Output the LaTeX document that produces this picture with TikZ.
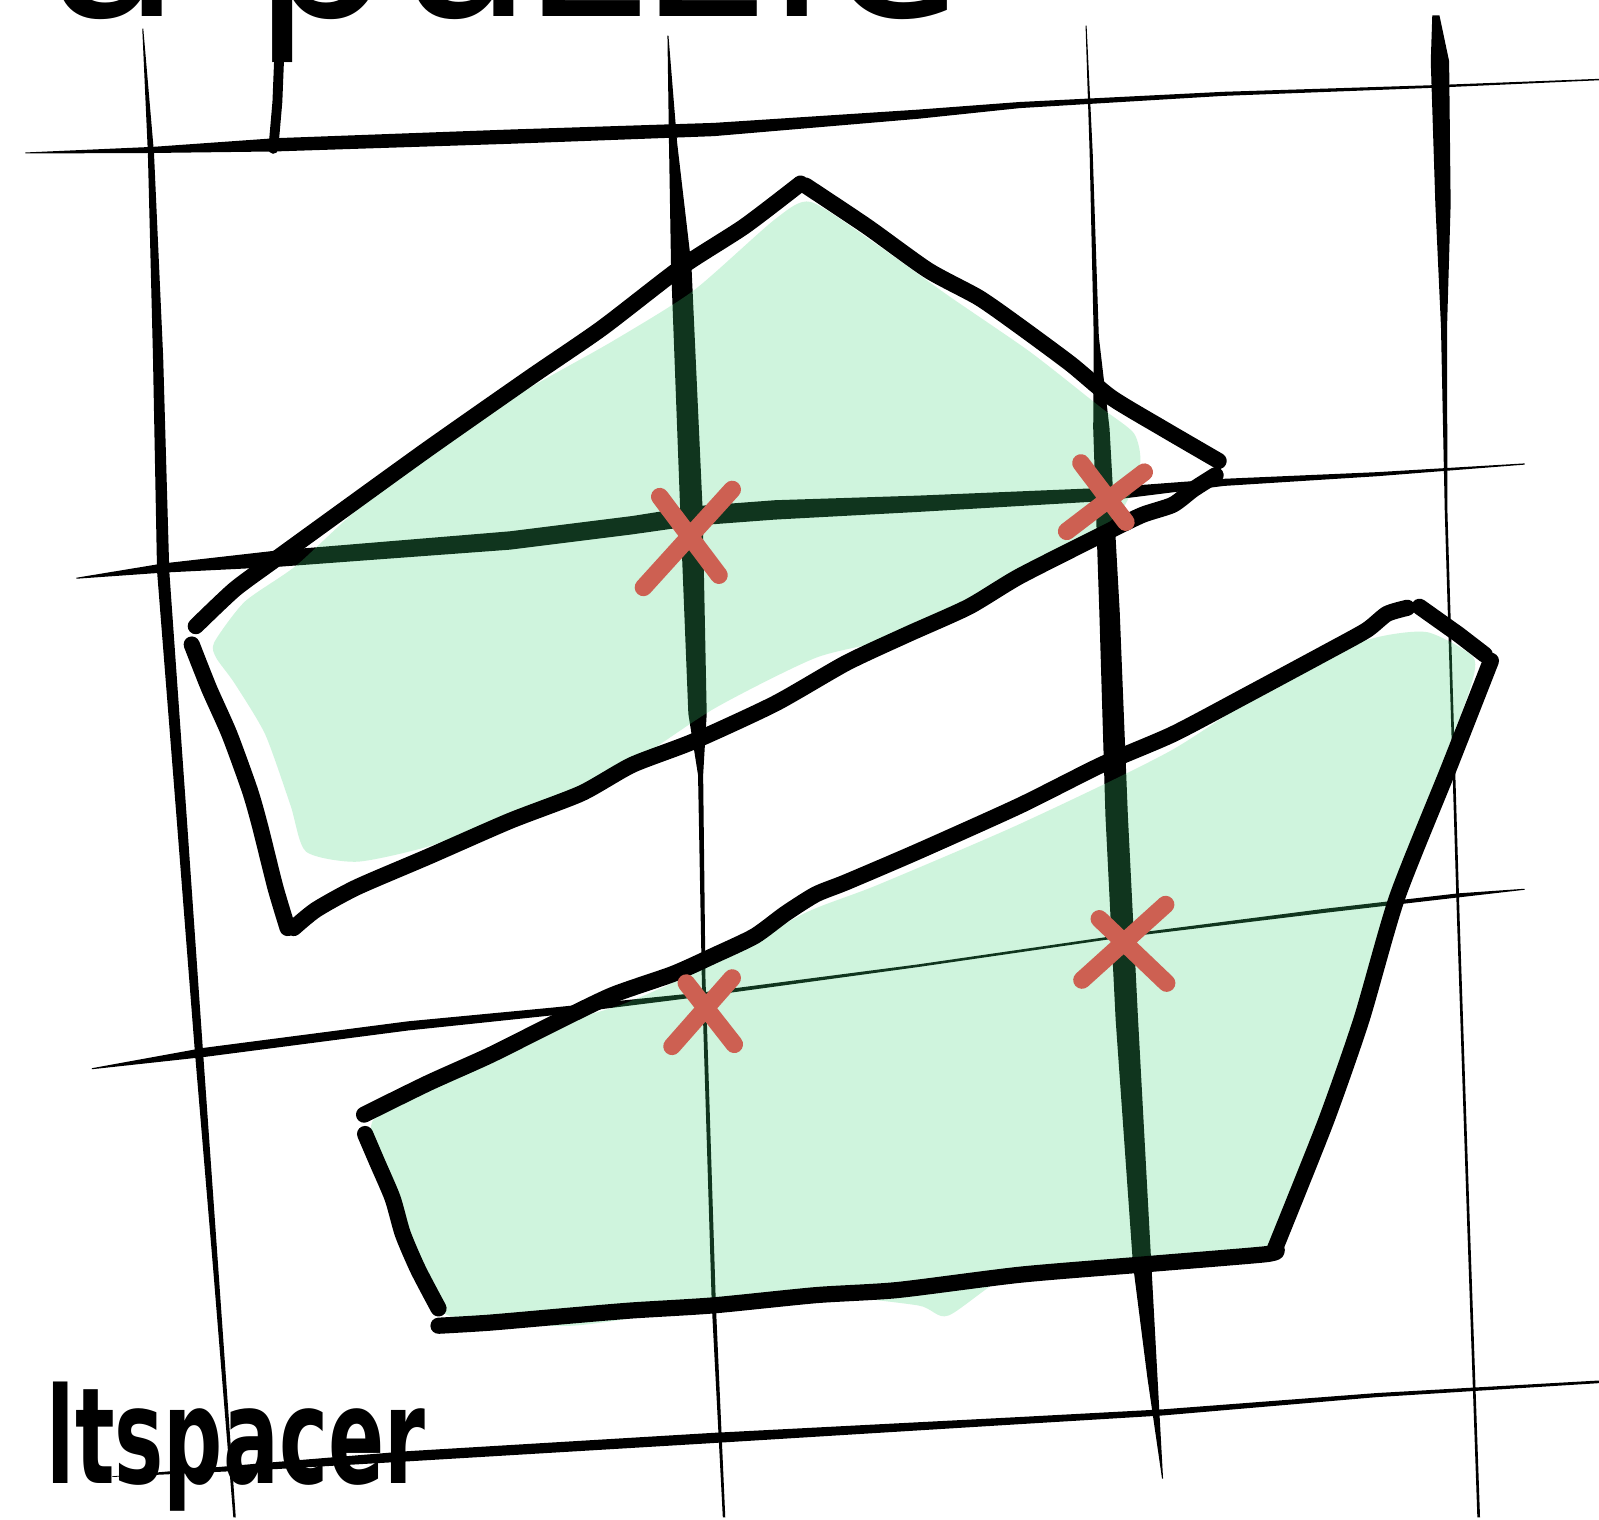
\documentclass[tikz,border=0pt]{standalone}
\usepackage{fontspec}
\newfontfamily\handfont{DejaVu Sans}
\usepackage{tikz}
\definecolor{ink}{RGB}{0,0,0}
\definecolor{leafgreen}{RGB}{64,212,120}
\definecolor{crossred}{RGB}{205,96,82}
\tikzset{
  gridstroke/.style={fill=ink},
  outline/.style={draw=ink, line width=4.6pt, line cap=round, line join=round},
  shadefill/.style={fill=leafgreen, fill opacity=0.25},
  crossmark/.style={draw=crossred, line width=5pt, line cap=round},
  scrawl/.style={inner sep=0pt, text=ink, font=\handfont\bfseries}
}

\begin{document}
\begin{tikzpicture}[x=0.0102cm, y=-0.0102cm]
\useasboundingbox (0,0) rectangle (1568,1490);
\fill[white] (0,0) rectangle (1568,1490);
\begin{scope}
\clip (0,0) rectangle (1568,1490);

% grid, vertical strokes
\fill[gridstroke] (139.5,28) -- (145,150) -- (150,350) -- (154,560) -- (173,800) -- (191,1030) -- (209.5,1250) -- (228.8,1488)
  -- (231.2,1488) -- (214.5,1250) -- (199,1030) -- (183,800) -- (166,560) -- (160,350) -- (151,150) -- (140.5,28) -- cycle;
\fill[gridstroke] (654.5,35) -- (656,140) -- (658,260) -- (667,500) -- (675,700) -- (684.5,760) -- (688.2,960) -- (698,1280) -- (708.8,1488)
  -- (711.2,1488) -- (702,1280) -- (691.8,960) -- (689.5,760) -- (693,700) -- (689,500) -- (678,260) -- (664,140) -- (655.5,35) -- cycle;
\fill[gridstroke] (1064.5,25) -- (1068.5,150) -- (1072.5,330) -- (1072,420) -- (1078,600) -- (1084,800) -- (1094,1000) -- (1111,1240) -- (1125,1350) -- (1139.5,1450)
  -- (1140.5,1450) -- (1135,1350) -- (1129,1240) -- (1116,1000) -- (1106,800) -- (1098,600) -- (1088,420) -- (1077.5,330) -- (1071.5,150) -- (1065.5,25) -- cycle;
\fill[gridstroke] (1404.5,15) -- (1403,60) -- (1407.5,200) -- (1413,320) -- (1416.7,500) -- (1428.7,900) -- (1438.7,1200) -- (1448.7,1488)
  -- (1451.3,1488) -- (1441.3,1200) -- (1431.3,900) -- (1419.3,500) -- (1419,320) -- (1422.5,200) -- (1421,60) -- (1411.5,15) -- cycle;

% grid, horizontal strokes
\fill[gridstroke] (25,149.5) -- (150,144) -- (270,135.5) -- (500,127) -- (700,120.5) -- (900,107.5) -- (1000,100) -- (1200,90) -- (1400,83.7) -- (1568,77.3)
  -- (1568,78.7) -- (1400,86.3) -- (1200,94) -- (1000,106) -- (900,116.5) -- (700,133.5) -- (500,141) -- (270,148.5) -- (150,150) -- (25,150.5) -- cycle;
\fill[gridstroke] (75,566.5) -- (160,552.5) -- (270,540) -- (500,521) -- (620,506) -- (680,496.5) -- (760,490.5) -- (900,486) -- (1080,478.5) -- (1200,469.5) -- (1350,463) -- (1495,454.4)
  -- (1495,455.6) -- (1350,467) -- (1200,476.5) -- (1080,491.5) -- (900,502) -- (760,509.5) -- (680,515.5) -- (620,524) -- (500,539) -- (270,556) -- (160,561.5) -- (75,567.5) -- cycle;
\fill[gridstroke] (90,1047.5) -- (200,1027.5) -- (400,1001.5) -- (540,988.2) -- (690,973) -- (900,945.7) -- (1100,916.7) -- (1300,891) -- (1430,876) -- (1495,871.5)
  -- (1495,872.5) -- (1430,880) -- (1300,895) -- (1100,919.3) -- (900,948.3) -- (690,977) -- (540,995.8) -- (400,1010.5) -- (200,1036.5) -- (90,1048.5) -- cycle;
\fill[gridstroke] (110,1447.7) -- (272,1433.5) -- (400,1423) -- (700,1405) -- (1000,1389.5) -- (1140,1382) -- (1350,1366) -- (1568,1353.7)
  -- (1568,1356.3) -- (1350,1370) -- (1140,1388) -- (1000,1396.5) -- (700,1415) -- (400,1433) -- (272,1440.5) -- (110,1448.3) -- cycle;

% handwriting
\node[scrawl, anchor=base west] (title) at (45,16)
  {\mdseries\fontsize{63}{66}\selectfont a puzzle};
\draw[ink, line width=2.8pt, line cap=round] (276,0) -- (272,100) -- (268,146);
\node[scrawl, anchor=base west] (caption) at (45,1455)
  {\fontsize{38}{40}\selectfont\scalebox{0.62}[1]{ltspacer}};

% shaded areas
\fill[shadefill] plot[smooth cycle, tension=0.4] coordinates {
  (210,630) (240,590) (290,555) (350,500) (440,430) (520,380) (600,335) (680,285) (760,215)
  (795,198) (860,240) (930,290) (1010,345) (1080,400) (1112,425) (1118,455) (1100,500)
  (1050,540) (960,590) (880,625) (800,645) (700,695) (600,760) (500,800) (420,830)
  (350,845) (300,835) (285,790) (260,720) (230,670) (212,645)};
\fill[shadefill] plot[smooth cycle, tension=0.4] coordinates {
  (365,1100) (420,1055) (520,1012) (610,985) (700,945) (790,895) (860,868) (1000,808)
  (1150,735) (1280,650) (1350,625) (1400,620) (1445,645) (1440,680) (1410,760) (1370,880)
  (1340,980) (1300,1100) (1260,1210) (1240,1222) (1120,1235) (1000,1245) (930,1290)
  (900,1280) (800,1270) (700,1280) (560,1300) (440,1290) (415,1250) (395,1200) (375,1140)};

% upper outline
\draw[outline] plot[smooth, tension=0.4] coordinates {
  (192,614) (230,578) (268,550) (330,505) (420,440) (520,370) (590,322) (668,262)
  (730,222) (785,180)};
\draw[outline] plot[smooth, tension=0.4] coordinates {
  (790,182) (850,222) (910,265) (960,292) (1000,320) (1050,357) (1090,390) (1140,420) (1195,452)};
\draw[outline] plot[smooth, tension=0.4] coordinates {
  (1192,466) (1170,480) (1150,495) (1120,505) (1085,522) (1000,565) (950,595) (890,622)
  (830,650) (760,690) (680,727) (620,750) (570,778) (500,805) (420,840) (350,870) (310,892) (288,910)};
\draw[outline] plot[smooth, tension=0.4] coordinates {
  (282,910) (270,870) (255,810) (245,775) (225,720) (205,675) (188,632)};

% lower outline
\draw[outline] plot[smooth, tension=0.4] coordinates {
  (357,1093) (420,1062) (480,1035) (540,1005) (600,976) (660,955) (700,937) (740,918)
  (770,896) (800,877) (830,865) (900,835) (1000,790) (1080,750) (1150,720) (1220,683)
  (1300,640) (1340,618) (1360,602) (1380,596)};
\draw[outline] (1392,595) -- (1430,622) -- (1456,642);
\draw[outline] plot[smooth, tension=0.4] coordinates {
  (1462,648) (1420,755) (1370,880) (1335,1000) (1300,1100) (1250,1225)};
\draw[outline] plot[smooth, tension=0.4] coordinates {
  (1252,1226) (1240,1230) (1120,1240) (1000,1250) (880,1265) (800,1270) (700,1280)
  (620,1285) (560,1290) (480,1297) (430,1300)};
\draw[outline] plot[smooth, tension=0.4] coordinates {
  (430,1283) (410,1245) (395,1210) (385,1175) (370,1140) (358,1112)};

% crossings
\coordinate (cross1) at (677,526);
\coordinate (cross2) at (1082,490);
\coordinate (cross3) at (690,987);
\coordinate (cross4) at (1103,925);
\draw[crossmark] (cross1) ++(-46,50) -- ++(87,-96) (cross1) ++(-30,-39) -- ++(58,77);
\draw[crossmark] (cross2) ++(-36,31) -- ++(76,-58) (cross2) ++(-22,-36) -- ++(44,58);
\draw[crossmark] (cross3) ++(-31,39) -- ++(59,-67) (cross3) ++(-17,-23) -- ++(47,60);
\draw[crossmark] (cross4) ++(-42,36) -- ++(82,-74) (cross4) ++(-25,-24) -- ++(66,63);
\end{scope}
\end{tikzpicture}
\end{document}
